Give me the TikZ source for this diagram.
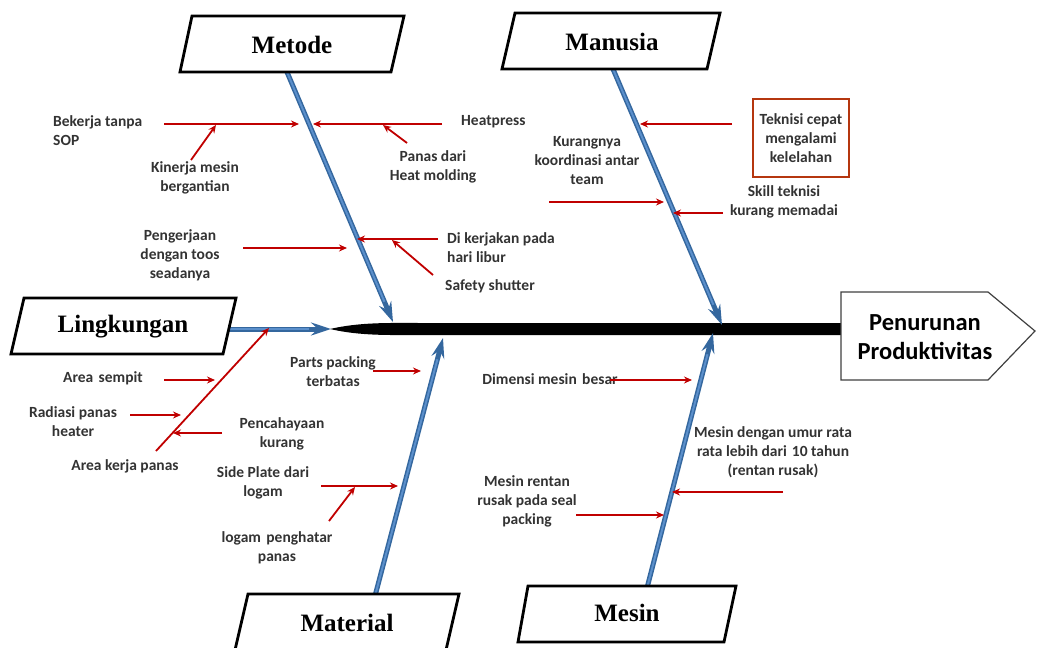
\documentclass[tikz,border=0pt]{standalone}
\usepackage{fontspec}
\setmainfont{Liberation Serif}
\newfontfamily\lblfont{Carlito}
\usetikzlibrary{arrows.meta}
\definecolor{boneblue}{HTML}{5B8FCB}
\definecolor{bonedark}{HTML}{34679E}
\definecolor{arrred}{HTML}{C00000}
\definecolor{txtgray}{HTML}{333333}
\definecolor{boxred}{HTML}{B5360F}
\definecolor{headline}{HTML}{404040}
\tikzset{
  catbox/.style={draw=black, line width=2.8pt, fill=white, line join=miter},
  cattext/.style={font=\bfseries\fontsize{25}{28}\selectfont, inner sep=0pt},
  lbl/.style={font=\lblfont\bfseries\fontsize{15.5}{19}\selectfont, text=txtgray, align=center, inner sep=0pt},
  bone/.style={line width=5pt, draw=bonedark, -{Stealth[length=20pt,width=13pt,inset=7pt]}},
  boneinner/.style={line width=2pt, draw=boneblue, shorten >=22pt},
  redarr/.style={draw=arrred, line width=1.8pt, -{Stealth[length=8pt,width=7pt]}},
  headtext/.style={font=\lblfont\bfseries\fontsize{24.5}{29}\selectfont, align=center, inner sep=0pt}
}
\begin{document}
\begin{tikzpicture}[x=1pt,y=-1pt]
\useasboundingbox (0,0) rectangle (1037,648);

% ---------- spine ----------
\fill[black] (330,329) .. controls (360,322) and (390,323) .. (420,323) -- (843,323) -- (843,335) -- (420,335) .. controls (390,335) and (360,336) .. (330,329) -- cycle;

% spine targets
\coordinate (tMetode) at (393,322);
\coordinate (tManusia) at (722,325);
\coordinate (tLing) at (331,329);
\coordinate (tMaterial) at (443,338);
\coordinate (tMesin) at (713,333);

% bone starts
\coordinate (sMetode) at (287,72);
\coordinate (sManusia) at (613,69);
\coordinate (sLing) at (226,329);
\coordinate (sMaterial) at (375,596);
\coordinate (sMesin) at (647,588);

% ---------- main bones ----------
\foreach \s/\t in {sMetode/tMetode, sManusia/tManusia, sLing/tLing, sMaterial/tMaterial, sMesin/tMesin}{
  \draw[bone] (\s) -- (\t);
  \draw[boneinner] (\s) -- (\t);
}

% ---------- category boxes ----------
\draw[catbox] (192,16) -- (404,16) -- (391,72) -- (180,72) -- cycle;
\node[cattext] (metode) at (292,45) {Metode};
\draw[catbox] (515,13) -- (720,13) -- (707,69) -- (502,69) -- cycle;
\node[cattext] (manusia) at (612,42) {Manusia};
\draw[catbox] (24,298) -- (236,298) -- (223,354) -- (11,354) -- cycle;
\node[cattext] (lingkungan) at (123,327) {Lingkungan};
\draw[catbox] (248,594) -- (459,594) -- (446,650) -- (235,650) -- cycle;
\node[cattext] (material) at (347,623) {Material};
\draw[catbox] (528,586) -- (736,586) -- (724,642) -- (518,642) -- cycle;
\node[cattext] (mesin) at (627,613) {Mesin};

% ---------- head ----------
\draw[draw=headline, line width=1.2pt, fill=white, line join=miter] (841,292) -- (988,292) -- (1035,331) -- (988,380) -- (841,380) -- cycle;
\node[headtext] (head) at (925,337) {Penurunan\\Produktivitas};

% ---------- labels ----------
\node[lbl, align=left, anchor=west] (bekerja) at (53,131) {Bekerja tanpa\\SOP};
\node[lbl] (kinerja) at (195,178) {Kinerja mesin\\bergantian};
\node[lbl, anchor=west] (heatpress) at (461,122) {Heatpress};
\node[lbl] (panas) at (433,167) {Panas dari\\Heat molding};
\node[lbl] (pengerjaan) at (180,255) {Pengerjaan\\dengan toos\\seadanya};
\node[lbl, align=left, anchor=west] (dikerjakan) at (447,248) {Di kerjakan pada\\hari libur};
\node[lbl, anchor=west] (safety) at (445,286) {Safety shutter};

\node[lbl, draw=boxred, line width=2.8pt, minimum width=96pt, minimum height=78pt] (teknisi) at (801,138) {Teknisi cepat\\mengalami\\kelelahan};
\node[lbl] (kurangnya) at (587,161) {Kurangnya\\koordinasi antar\\team};
\node[lbl] (skill) at (784,202) {Skill teknisi\\kurang memadai};

\node[lbl] (areakerja) at (125,466) {Area kerja panas};
\node[lbl] (areasempit) at (103,378) {Area\hspace{0.12em} sempit};
\node[lbl] (radiasi) at (73,422) {Radiasi panas\\heater};
\node[lbl] (pencahayaan) at (282,434) {Pencahayaan\\kurang};

\node[lbl] (parts) at (333,372) {Parts packing\\terbatas};
\node[lbl] (sideplate) at (263,483) {Side Plate dari\\logam};
\node[lbl] (logam) at (277,548) {logam\hspace{0.12em} penghatar\\panas};

\node[lbl] (dimensi) at (550,379) {Dimensi mesin\hspace{0.12em} besar};
\node[lbl] (umur) at (773,452) {Mesin dengan umur rata\\rata lebih dari\hspace{0.1em} 10 tahun\\(rentan rusak)};
\node[lbl] (rentan) at (527,501) {Mesin rentan\\rusak pada seal\\packing};

% ---------- sub-cause connector points ----------
\coordinate (a1s) at (164,124); \coordinate (a1e) at (299,124);
\coordinate (a2s) at (191,160); \coordinate (a2e) at (216,125);
\coordinate (a3s) at (442,124); \coordinate (a3e) at (313,124);
\coordinate (a4s) at (407,143); \coordinate (a4e) at (383,125);
\coordinate (a5s) at (243,248); \coordinate (a5e) at (347,248);
\coordinate (a6s) at (438,239); \coordinate (a6e) at (357,239);
\coordinate (a7s) at (433,275); \coordinate (a7e) at (392,240);

\coordinate (b1s) at (732,124); \coordinate (b1e) at (640,124);
\coordinate (b2s) at (549,202); \coordinate (b2e) at (664,202);
\coordinate (b3s) at (723,213); \coordinate (b3e) at (673,213);

\coordinate (c1s) at (156,451); \coordinate (c1e) at (269,328);
\coordinate (c2s) at (164,380); \coordinate (c2e) at (215,380);
\coordinate (c3s) at (130,415); \coordinate (c3e) at (181,415);
\coordinate (c4s) at (222,433); \coordinate (c4e) at (173,433);

\coordinate (d1s) at (373,371); \coordinate (d1e) at (421,371);
\coordinate (d2s) at (321,486); \coordinate (d2e) at (398,486);
\coordinate (d3s) at (329,521); \coordinate (d3e) at (355,487);

\coordinate (e1s) at (610,380); \coordinate (e1e) at (692,380);
\coordinate (e2s) at (783,492); \coordinate (e2e) at (672,492);
\coordinate (e3s) at (576,515); \coordinate (e3e) at (664,515);

\foreach \n in {a1,a2,a3,a4,a5,a6,a7,b1,b2,b3,c1,c2,c3,c4,d1,d2,d3,e1,e2,e3}{
  \draw[redarr] (\n s) -- (\n e);
}
\end{tikzpicture}
\end{document}
